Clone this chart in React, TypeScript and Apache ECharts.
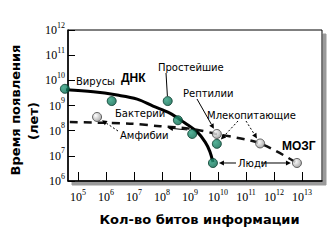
import React, { useEffect, useRef } from 'react';
import * as echarts from 'echarts';

// Amount of genetic information (bits) vs. time since appearance (years)
const dnaBits = [3.4e4, 1.6e6, 1.6e8, 3.7e8, 1.2e9, 9.1e9, 6.6e9];
const dnaYears = [4.6e9, 1.5e9, 1.5e9, 2.6e8, 7.4e7, 3.0e7, 5.2e6];

// Information stored in the brain
const brainBits = [4.8e5, 9.1e9, 3.2e11, 6.6e12];
const brainYears = [3.5e8, 7.4e7, 3.1e7, 5.2e6];

// Trend curves
const dnaCurveBits = [3.5e4, 3.5e5, 2.5e6, 1.3e7, 4.8e7, 1.9e8, 6.6e8, 1.8e9, 3.5e9, 5.1e9, 6.6e9];
const dnaCurveYears = [4.2e9, 3.5e9, 2.6e9, 1.8e9, 9.5e8, 5.0e8, 2.0e8, 8.9e7, 3.5e7, 1.5e7, 5.6e6];
const brainCurveBits = [5.1e4, 7.2e6, 8.5e7, 1.0e9, 9.1e9, 3.2e11, 6.6e12];
const brainCurveYears = [2.2e8, 1.9e8, 1.5e8, 1.2e8, 7.4e7, 3.1e7, 5.2e6];

const xMin = 4.4e4;
const xMax = 5.18e13;
const yMin = 1e6;
const yMax = 1e12;

const zip = (a: number[], b: number[]) => a.map((v, i) => [v, b[i]]);

const powLabel = (v: number) => {
  const e = Math.log10(v);
  const r = Math.round(e);
  if (Math.abs(e - r) > 0.01) return '';
  return `{b|10}{s|${r}}`;
};

const labelRich = {
  b: { fontFamily: 'Liberation Serif', fontSize: 12, color: '#000', lineHeight: 18 },
  s: { fontFamily: 'Liberation Serif', fontSize: 8, color: '#000', lineHeight: 8, verticalAlign: 'top' },
};

const SANS = 'DejaVu Sans';

type Pt = [number, number];

function arrow(from: Pt, to: Pt, pull: number, dashed: boolean, head = true) {
  const dx = to[0] - from[0];
  const dy = to[1] - from[1];
  const len = Math.hypot(dx, dy);
  const ux = dx / len;
  const uy = dy / len;
  const tip: Pt = [to[0] - ux * pull, to[1] - uy * pull];
  const hl = head ? 5 : 0;
  const hw = 2.5;
  const base: Pt = [tip[0] - ux * hl, tip[1] - uy * hl];
  const els: any[] = [
    {
      type: 'line',
      shape: { x1: from[0], y1: from[1], x2: base[0], y2: base[1] },
      style: { stroke: '#000', lineWidth: 1, lineDash: dashed ? [2, 2] : null },
      z: 10,
    },
  ];
  if (head) {
    els.push({
      type: 'polygon',
      shape: {
        points: [tip, [base[0] - uy * hw, base[1] + ux * hw], [base[0] + uy * hw, base[1] - ux * hw]],
      },
      style: { fill: '#000' },
      z: 10,
    });
  }
  return els;
}

function label(text: string, x: number, y: number, bold = false) {
  return {
    type: 'text',
    x,
    y,
    z: 10,
    style: {
      text,
      fontFamily: bold ? 'Liberation Sans' : SANS,
      fontSize: bold ? 12 : 10,
      fontWeight: bold ? 'bold' : 'normal',
      fill: '#000',
      align: 'left',
      verticalAlign: 'middle',
    },
  };
}

export default function App() {
  const ref = useRef<HTMLDivElement>(null);

  useEffect(() => {
    if (!ref.current) return;
    const chart = echarts.init(ref.current, undefined, { renderer: 'svg' });

    const green = new echarts.graphic.RadialGradient(0.35, 0.35, 0.75, [
      { offset: 0, color: '#2a9f7e' },
      { offset: 1, color: '#05644a' },
    ]);
    const gray = new echarts.graphic.RadialGradient(0.35, 0.35, 0.75, [
      { offset: 0, color: '#ffffff' },
      { offset: 1, color: '#8c8c8c' },
    ]);

    chart.setOption({
      animation: false,
      grid: {
        left: 68,
        top: 30,
        right: 7,
        bottom: 64,
        show: true,
        borderColor: '#000',
        borderWidth: 1,
        backgroundColor: '#fff',
        shadowColor: '#9a9a9a',
        shadowOffsetX: 4,
        shadowOffsetY: 4,
        shadowBlur: 0,
      },
      xAxis: {
        type: 'log',
        logBase: 10,
        min: xMin,
        max: xMax,
        axisLine: { lineStyle: { color: '#000', width: 1.5 } },
        axisTick: { inside: true, length: 9, lineStyle: { color: '#000', width: 1 } },
        splitLine: { show: false },
        axisLabel: { formatter: powLabel, rich: labelRich, margin: 7, showMinLabel: false, showMaxLabel: false },
        name: 'Кол-во битов информации',
        nameLocation: 'middle',
        nameGap: 32,
        nameTextStyle: {
          fontFamily: SANS,
          fontSize: 13,
          fontWeight: 'bold',
          color: '#000',
          padding: [0, 0, 0, 9],
        },
      },
      yAxis: {
        type: 'log',
        logBase: 10,
        min: yMin,
        max: yMax,
        axisLine: { lineStyle: { color: '#000', width: 1.5 } },
        axisTick: { inside: true, length: 7, lineStyle: { color: '#000', width: 1 } },
        splitLine: { show: false },
        axisLabel: { formatter: powLabel, rich: labelRich, margin: 3 },
      },
      series: [
        {
          name: 'ДНК',
          type: 'line',
          data: zip(dnaCurveBits, dnaCurveYears),
          smooth: 0.35,
          showSymbol: false,
          clip: false,
          lineStyle: { color: '#000', width: 3 },
          z: 2,
        },
        {
          name: 'МОЗГ',
          type: 'line',
          data: zip(brainCurveBits, brainCurveYears),
          smooth: 0.3,
          showSymbol: false,
          clip: false,
          lineStyle: { color: '#111', width: 2.5, type: [8, 6] },
          z: 2,
        },
        {
          type: 'scatter',
          data: zip(dnaBits, dnaYears),
          symbolSize: 9,
          clip: false,
          itemStyle: { color: green, borderColor: '#063a2a', borderWidth: 1 },
          z: 5,
        },
        {
          type: 'scatter',
          data: zip(brainBits, brainYears),
          symbolSize: 9,
          clip: false,
          itemStyle: { color: gray, borderColor: '#444', borderWidth: 1 },
          z: 5,
        },
      ],
    });

    const px = (b: number, y: number) => chart.convertToPixel({ gridIndex: 0 }, [b, y]) as Pt;
    const dna = dnaBits.map((b, i) => px(b, dnaYears[i]));
    const brain = brainBits.map((b, i) => px(b, brainYears[i]));

    const graphics: any[] = [
      // Y axis title, two rotated lines
      {
        type: 'text',
        x: 15,
        y: 110,
        rotation: Math.PI / 2,
        style: {
          text: 'Время появления',
          fontFamily: SANS,
          fontSize: 13,
          fontWeight: 'bold',
          fill: '#000',
          align: 'center',
          verticalAlign: 'middle',
        },
      },
      {
        type: 'text',
        x: 33,
        y: 121,
        rotation: Math.PI / 2,
        style: {
          text: '(лет)',
          fontFamily: SANS,
          fontSize: 13,
          fontWeight: 'bold',
          fill: '#000',
          align: 'center',
          verticalAlign: 'middle',
        },
      },
      label('Вирусы', 76, 81),
      label('ДНК', 121, 78, true),
      label('Бактерии', 115, 113),
      label('Простейшие', 158, 67),
      label('Рептилии', 183, 93),
      label('Млекопитающие', 207, 115),
      label('Амфибии', 120, 135),
      label('МОЗГ', 282, 146, true),
      label('Люди', 238, 163),
      ...arrow([166, 73], dna[2], 5, false, false),
      ...arrow([197, 99], brain[1], 6, false),
      ...arrow([238, 121], dna[5], 6, true),
      ...arrow([246, 121], brain[2], 6, true),
      ...arrow([118, 131], brain[0], 6, true),
      ...arrow([dna[4][0] - 5, dna[4][1] - 4], [168, 128], 0, false),
      ...arrow([236, 163], dna[6], 6, false),
      ...arrow([261, 163], brain[3], 6, false),
    ];

    chart.setOption({ graphic: graphics });

    return () => chart.dispose();
  }, []);

  return (
    <div
      ref={ref}
      style={{ position: 'absolute', left: 0, top: 0, width: 329, height: 245, background: '#fff' }}
    />
  );
}
